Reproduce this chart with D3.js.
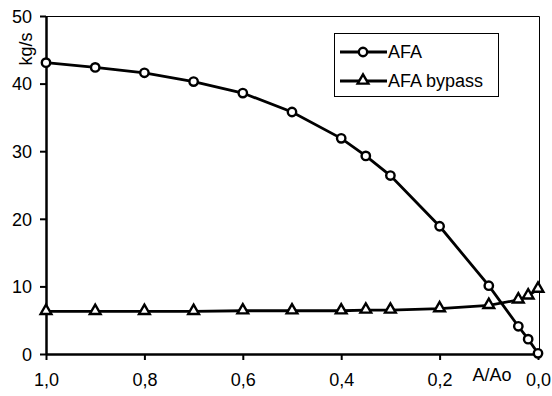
<!DOCTYPE html>
<html>
<head>
<meta charset="utf-8">
<script src="https://cdn.jsdelivr.net/npm/d3@7/dist/d3.min.js"></script>
<style>
  body { margin: 0; background: #fff; }
  svg text { font-family: "Liberation Sans", Arial, sans-serif; fill: #000; }
</style>
</head>
<body>
<div id="chart"></div>
<script>
/** Data */
const ratio = [1.0, 0.9, 0.8, 0.7, 0.6, 0.5, 0.4, 0.35, 0.3, 0.2, 0.1, 0.04, 0.02, 0.0];
const afa = [43.1, 42.4, 41.6, 40.3, 38.6, 35.8, 31.9, 29.3, 26.4, 18.9, 10.1, 4.1, 2.2, 0.1];
const afaBypass = [6.3, 6.3, 6.3, 6.3, 6.4, 6.4, 6.4, 6.5, 6.5, 6.7, 7.2, 8.0, 8.6, 9.6];
const xTicks = [1.0, 0.8, 0.6, 0.4, 0.2, 0.0];
const yTicks = [0, 10, 20, 30, 40, 50];
const seriesNames = ["AFA", "AFA bypass"];

/** Graph configs */
const width = 552;
const height = 396;
const padLeft = 46, padRight = 538, padTop = 16, padBottom = 354;
const fontSize = "18px";

const svg = d3.select("#chart").append("svg")
  .attr("width", width)
  .attr("height", height);

const x = d3.scaleLinear().domain([1, 0]).range([padLeft, padRight]);
const y = d3.scaleLinear().domain([0, 50]).range([padBottom, padTop]);

/** Frame: thin top/right lines */
svg.append("path")
  .attr("d", `M${padLeft},${padTop + 0.5}H${padRight + 1.5}V${padBottom}`)
  .attr("fill", "none")
  .attr("stroke", "#000")
  .attr("stroke-width", 1);

/** Axes */
const fmt = (d) => d3.format(".1f")(d).replace(".", ",");

const yAxis = svg.append("g")
  .attr("transform", `translate(${padLeft},0)`)
  .call(d3.axisLeft(y).tickValues(yTicks).tickSize(6).tickPadding(8).tickSizeOuter(0));
const xAxis = svg.append("g")
  .attr("transform", `translate(0,${padBottom})`)
  .call(d3.axisBottom(x).tickValues(xTicks).tickFormat(fmt).tickSize(6).tickPadding(13).tickSizeOuter(0));

[yAxis, xAxis].forEach((g) => {
  g.select(".domain").attr("stroke-width", 2.5);
  g.selectAll(".tick line").attr("stroke-width", 2);
  g.selectAll("text").style("font-size", fontSize);
});
yAxis.selectAll("text").attr("dy", "0.35em");

/** Axis titles */
svg.append("text")
  .attr("transform", "translate(32,49) rotate(-90)")
  .attr("text-anchor", "middle")
  .style("font-size", fontSize)
  .text("kg/s");

svg.append("text")
  .attr("x", 492)
  .attr("y", 381)
  .attr("text-anchor", "middle")
  .style("font-size", fontSize)
  .text("A/Ao");

/** Lines */
const line = (vals) => d3.line()
  .x((_, i) => x(ratio[i]))
  .y((d) => y(d))(vals);

svg.append("path").attr("d", line(afaBypass))
  .attr("fill", "none").attr("stroke", "#000").attr("stroke-width", 2.8);
svg.append("path").attr("d", line(afa))
  .attr("fill", "none").attr("stroke", "#000").attr("stroke-width", 2.8);

const tri = d3.symbol().type(d3.symbolTriangle).size(50);

svg.selectAll("path.tri")
  .data(afaBypass)
  .enter()
  .append("path")
  .attr("class", "tri")
  .attr("d", tri)
  .attr("transform", (d, i) => `translate(${x(ratio[i])},${y(d) - 0.5})`)
  .attr("fill", "#fff").attr("stroke", "#000").attr("stroke-width", 2.4);

svg.selectAll("circle.afa")
  .data(afa)
  .enter()
  .append("circle")
  .attr("class", "afa")
  .attr("cx", (_, i) => x(ratio[i]))
  .attr("cy", (d) => y(d))
  .attr("r", 4.2)
  .attr("fill", "#fff").attr("stroke", "#000").attr("stroke-width", 2.4);

/** Legend */
const legend = svg.append("g");
legend.append("rect")
  .attr("x", 334.5).attr("y", 33.5)
  .attr("width", 164).attr("height", 63)
  .attr("fill", "#fff").attr("stroke", "#000").attr("stroke-width", 1);

seriesNames.forEach((name, i) => {
  const ly = 52 + i * 29;
  legend.append("line")
    .attr("x1", 340).attr("x2", 387).attr("y1", ly).attr("y2", ly)
    .attr("stroke", "#000").attr("stroke-width", 2.8);
  if (i === 0) {
    legend.append("circle").attr("cx", 363).attr("cy", ly).attr("r", 4.2)
      .attr("fill", "#fff").attr("stroke", "#000").attr("stroke-width", 2.4);
  } else {
    legend.append("path").attr("d", tri)
      .attr("transform", `translate(363,${ly - 0.5})`)
      .attr("fill", "#fff").attr("stroke", "#000").attr("stroke-width", 2.4);
  }
  legend.append("text")
    .attr("x", 388).attr("y", ly)
    .attr("dy", "0.36em")
    .style("font-size", fontSize)
    .text(name);
});
</script>
</body>
</html>
